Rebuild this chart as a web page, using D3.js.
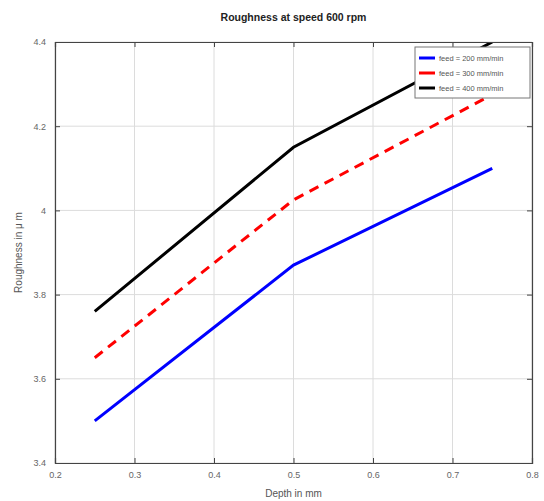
<!DOCTYPE html>
<html>
<head>
  <meta charset="utf-8">
  <title>Roughness at speed 600 rpm</title>
  <script src="https://d3js.org/d3.v7.min.js"></script>
  <style>
    body { margin: 0; background: #fff; }
    text { font-family: "Liberation Sans", Arial, sans-serif; }
  </style>
</head>
<body>
  <svg width="544" height="501"></svg>
  <script>
// data
const depth = [0.25, 0.5, 0.75];
const feed200 = [3.50, 3.87, 4.10];
const feed300 = [3.65, 4.025, 4.275];
const feed400 = [3.76, 4.15, 4.40];
const seriesNames = ['feed = 200 mm/min', 'feed = 300 mm/min', 'feed = 400 mm/min'];
const xTicks = [0.2, 0.3, 0.4, 0.5, 0.6, 0.7, 0.8];
const yTicks = [3.4, 3.6, 3.8, 4, 4.2, 4.4];

const series = [
  { name: seriesNames[0], values: feed200, color: '#0000ff', dash: null },
  { name: seriesNames[1], values: feed300, color: '#ff0000', dash: '10,7' },
  { name: seriesNames[2], values: feed400, color: '#000000', dash: null }
];

const margin = { top: 42, right: 12, bottom: 38, left: 55 };
const W = 544, H = 501;
const width = W - margin.left - margin.right;
const height = H - margin.top - margin.bottom;

const svg = d3.select('svg');
const g = svg.append('g').attr('transform', `translate(${margin.left},${margin.top})`);

const x = d3.scaleLinear().domain([0.2, 0.8]).range([0, width]);
const y = d3.scaleLinear().domain([3.4, 4.4]).range([height, 0]);

// grid
g.append('g').selectAll('line').data(xTicks).join('line')
  .attr('x1', d => x(d)).attr('x2', d => x(d)).attr('y1', 0).attr('y2', height)
  .attr('stroke', '#dcdcdc').attr('stroke-width', 1);
g.append('g').selectAll('line').data(yTicks).join('line')
  .attr('y1', d => y(d)).attr('y2', d => y(d)).attr('x1', 0).attr('x2', width)
  .attr('stroke', '#dcdcdc').attr('stroke-width', 1);

// lines
g.append('defs').append('clipPath').attr('id', 'clip')
  .append('rect').attr('width', width).attr('height', height);
const line = d3.line().x((d, i) => x(depth[i])).y(d => y(d));
g.append('g').attr('clip-path', 'url(#clip)')
  .selectAll('path').data(series).join('path')
  .attr('d', d => line(d.values))
  .attr('fill', 'none')
  .attr('stroke', d => d.color)
  .attr('stroke-width', 3)
  .attr('stroke-dasharray', d => d.dash);

// axes (MATLAB-like box with inward ticks)
const axColor = '#444';
const fmt = d => d3.format('')(+d.toFixed(1));
const xb = g.append('g').attr('transform', `translate(0,${height})`)
  .call(d3.axisBottom(x).tickValues(xTicks).tickSize(-5).tickPadding(9).tickFormat(fmt));
const xt = g.append('g').call(d3.axisTop(x).tickValues(xTicks).tickSize(-5).tickFormat(''));
const yl = g.append('g').call(d3.axisLeft(y).tickValues(yTicks).tickSize(-5).tickPadding(9).tickFormat(fmt));
const yr = g.append('g').attr('transform', `translate(${width},0)`)
  .call(d3.axisRight(y).tickValues(yTicks).tickSize(-5).tickFormat(''));
[xb, xt, yl, yr].forEach(a => {
  a.select('.domain').attr('stroke', axColor).attr('stroke-width', 1.2);
  a.selectAll('.tick line').attr('stroke', axColor);
  a.selectAll('.tick text').attr('fill', '#666').attr('font-size', 9)
    .style('font-family', '"Liberation Sans", Arial, sans-serif');
});

// title and labels
svg.append('text').attr('x', margin.left + width / 2).attr('y', 21)
  .attr('text-anchor', 'middle').attr('font-size', 10.5).attr('font-weight', 'bold')
  .attr('fill', '#222').text('Roughness at speed 600 rpm');
svg.append('text').attr('x', margin.left + width / 2).attr('y', 497)
  .attr('text-anchor', 'middle').attr('font-size', 10).attr('fill', '#555')
  .text('Depth in mm');
svg.append('text').attr('transform', `translate(22,${margin.top + height / 2}) rotate(-90)`)
  .attr('text-anchor', 'middle').attr('font-size', 10).attr('fill', '#555')
  .text('Roughness in μ m');

// legend
const lg = g.append('g').attr('transform', `translate(${width - 117},5)`);
lg.append('rect').attr('width', 115).attr('height', 51)
  .attr('fill', '#fff').attr('stroke', '#777').attr('stroke-width', 1);
series.forEach((s, i) => {
  const row = lg.append('g').attr('transform', `translate(4,${11 + i * 15})`);
  row.append('line').attr('x1', 0).attr('x2', 16).attr('y1', 0).attr('y2', 0)
    .attr('stroke', s.color).attr('stroke-width', 3);
  row.append('text').attr('x', 20).attr('y', 3).attr('font-size', 7.5)
    .attr('fill', '#555').text(s.name);
});
  </script>
</body>
</html>
